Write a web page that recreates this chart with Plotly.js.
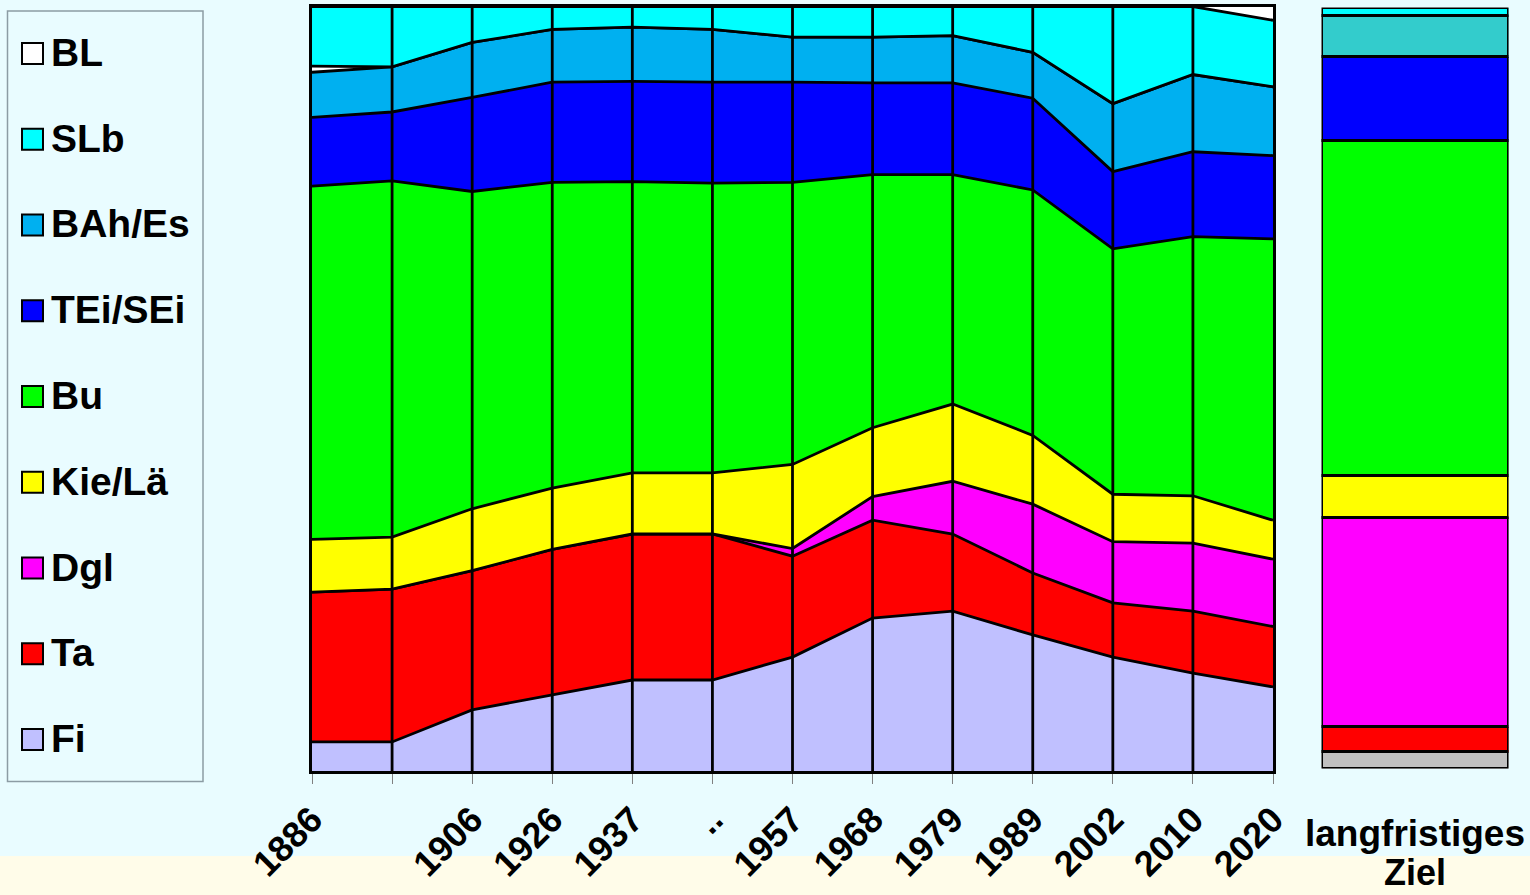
<!DOCTYPE html>
<html>
<head>
<meta charset="utf-8">
<script src="https://cdn.plot.ly/plotly-3.0.1.min.js"></script>
<style>
html,body{margin:0;padding:0;background:#E9FCFF;}
#chart{width:1530px;height:895px;}
</style>
</head>
<body>
<div id="chart"></div>
<script>
// ---- data (percent shares) ----
const years = ["1886", "", "1906", "1926", "1937", "..", "1957", "1968", "1979", "1989", "2002", "2010", "2020"];
const Fi   = [3.8, 3.8, 8.0, 9.9, 11.9, 11.9, 14.9, 20.0, 20.9, 17.8, 14.9, 12.8, 11.0];
const Ta   = [19.6, 20.0, 18.2, 19.1, 19.1, 19.1, 13.2, 12.8, 10.1, 8.1, 7.1, 8.1, 7.9];
const Dgl  = [0, 0, 0, 0, 0, 0, 1.0, 3.1, 6.9, 9.0, 8.0, 8.9, 8.8];
const KieLa = [6.9, 6.8, 8.1, 8.0, 8.0, 8.0, 11.0, 9.0, 10.1, 9.0, 6.2, 6.2, 5.1];
const Bu   = [46.2, 46.6, 41.5, 40.0, 38.1, 37.9, 36.9, 33.1, 30.0, 32.1, 32.1, 33.9, 36.8];
const TEi  = [9.0, 9.0, 12.3, 13.1, 13.1, 13.2, 13.1, 12.0, 12.0, 12.0, 10.1, 11.1, 10.9];
const BAh  = [5.9, 5.9, 7.2, 6.9, 7.1, 6.9, 5.9, 6.0, 6.2, 6.0, 8.9, 10.1, 9.0];
const BL   = [0.8, 0, 0, 0, 0, 0, 0, 0, 0, 0, 0, 0, 0];
const SLb  = [7.8, 7.9, 4.7, 3.0, 2.7, 3.0, 4.0, 4.0, 3.8, 6.0, 12.7, 8.9, 8.7];

const zielLine1 = "langfristiges";
const zielLine2 = "Ziel";
const zielNames  = ["Fi", "Ta", "Dgl", "Kie/Lä", "Bu", "TEi/SEi", "BAh/Es", "SLb"];
const zielValues = [2.2, 3.3, 27.5, 5.5, 44.0, 11.0, 5.5, 1.0];
const zielColors = ["#C0C0C0", "#FF0000", "#FF00FF", "#FFFF00", "#00FF00", "#0000FF", "#33CCCC", "#00FFFF"];

// stacking order (bottom to top)
const stackNames  = ["Fi", "Ta", "Dgl", "Kie/Lä", "Bu", "TEi/SEi", "BAh/Es", "BL", "SLb"];
const stackValues = [Fi, Ta, Dgl, KieLa, Bu, TEi, BAh, BL, SLb];
const stackColors = ["#C0C0FF", "#FF0000", "#FF00FF", "#FFFF00", "#00FF00", "#0000FF", "#00B0F0", "#FFFFFF", "#00FFFF"];

// legend order (top to bottom)
const legendNames  = ["BL", "SLb", "BAh/Es", "TEi/SEi", "Bu", "Kie/Lä", "Dgl", "Ta", "Fi"];
const legendColors = ["#FFFFFF", "#00FFFF", "#00B0F0", "#0000FF", "#00FF00", "#FFFF00", "#FF00FF", "#FF0000", "#C0C0FF"];

// ---- figure ----
const W = 1530, H = 895;
const FONT = "Liberation Sans, Arial, Helvetica, sans-serif";
const idx = years.map((_, i) => i);

const traces = stackNames.map((name, k) => ({
  type: "scatter",
  mode: "lines",
  name: name,
  x: idx,
  y: stackValues[k],
  stackgroup: "one",
  fillcolor: stackColors[k],
  line: {color: "#000000", width: 2.8, shape: "linear"},
  showlegend: false,
  hoverinfo: "skip",
  xaxis: "x", yaxis: "y"
}));

zielNames.forEach((name, k) => {
  traces.push({
    type: "bar",
    name: name,
    x: [zielLine1],
    y: [zielValues[k]],
    marker: {color: zielColors[k], line: {color: "#000000", width: 3}},
    showlegend: false,
    hoverinfo: "skip",
    xaxis: "x2", yaxis: "y2"
  });
});

const px = v => v / W;
const py = v => 1 - v / H;

const shapes = [];
// bottom pale yellow band
shapes.push({type: "rect", xref: "paper", yref: "paper", x0: 0, x1: 1, y0: 0, y1: py(856),
  fillcolor: "#FFFCE9", line: {width: 0}, layer: "below"});
// vertical drop lines at each category
idx.slice(1, -1).forEach(i => {
  shapes.push({type: "line", xref: "x", yref: "y domain", x0: i, x1: i, y0: 0, y1: 1,
    line: {color: "#000000", width: 2.8}, layer: "above"});
});
// legend box
shapes.push({type: "rect", xref: "paper", yref: "paper", x0: px(7.5), x1: px(203), y0: py(781.5), y1: py(11),
  fillcolor: "rgba(0,0,0,0)", line: {color: "#8C9CA4", width: 1.5}, layer: "above"});

const annotations = [];
legendNames.forEach((name, i) => {
  const yc = 53.5 + i * 85.75;
  shapes.push({type: "rect", xref: "paper", yref: "paper",
    x0: px(22), x1: px(43), y0: py(yc + 10.5), y1: py(yc - 10.5),
    fillcolor: legendColors[i], line: {color: "#000000", width: 2}, layer: "above"});
  annotations.push({xref: "paper", yref: "paper", x: px(49), y: py(yc - 1), xanchor: "left", yanchor: "middle",
    text: name, showarrow: false, font: {family: FONT, size: 39, color: "#000000", weight: "bold"}});
});
// second line of the Ziel category label
annotations.push({xref: "x2", yref: "paper", x: zielLine1, y: 0, xanchor: "center", yanchor: "bottom",
  text: zielLine2, showarrow: false, font: {family: FONT, size: 36, color: "#000000", weight: "bold"}});

const layout = {
  width: W, height: H,
  margin: {l: 0, r: 0, t: 0, b: 0},
  paper_bgcolor: "#E9FCFF",
  plot_bgcolor: "#FFFFFF",
  showlegend: false,
  barmode: "stack",
  bargap: 0,
  xaxis: {
    domain: [px(312), px(1273)],
    range: [0, years.length - 1],
    tickmode: "array", tickvals: idx, ticktext: years,
    tickangle: -45,
    tickfont: {family: FONT, size: 36, color: "#000000", weight: "bold"},
    ticks: "outside", ticklen: 10, tickwidth: 1, tickcolor: "#808080",
    showgrid: false, zeroline: false,
    showline: true, mirror: true, linecolor: "#000000", linewidth: 3
  },
  yaxis: {
    domain: [py(771), py(6.5)],
    range: [0, 100],
    showticklabels: false, ticks: "", showgrid: false, zeroline: false,
    showline: true, mirror: true, linecolor: "#000000", linewidth: 3
  },
  xaxis2: {
    domain: [px(1321.5), px(1508.5)],
    anchor: "y2",
    type: "category",
    tickfont: {family: FONT, size: 37, color: "#000000", weight: "bold"},
    ticks: "outside", ticklen: 32, tickcolor: "rgba(0,0,0,0)",
    showgrid: false, zeroline: false, showline: false
  },
  yaxis2: {
    domain: [py(768.5), py(7.5)],
    anchor: "x2",
    range: [0, 100],
    showticklabels: false, ticks: "", showgrid: false, zeroline: false, showline: false
  },
  shapes: shapes,
  annotations: annotations
};

Plotly.newPlot("chart", traces, layout, {staticPlot: true, displayModeBar: false});
</script>
</body>
</html>
